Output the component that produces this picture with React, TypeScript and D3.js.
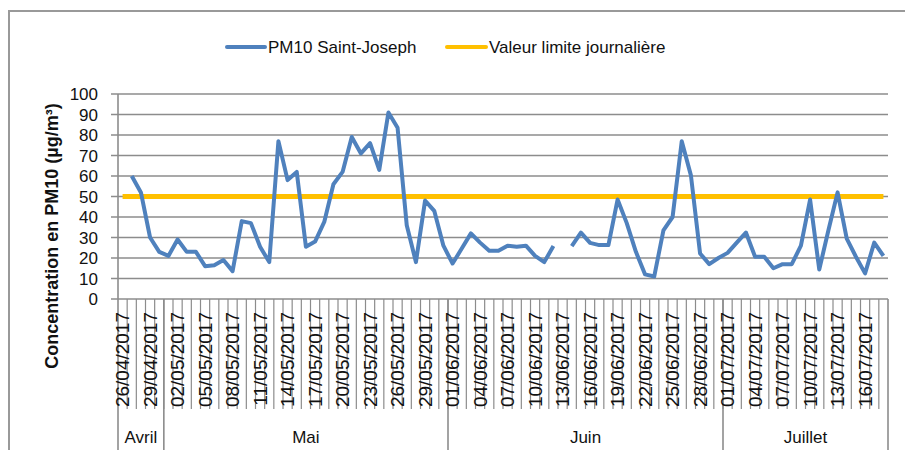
import React from 'react';
import * as d3 from 'd3';

// one value per day, 26/04/2017 -> 18/07/2017 (null = no measurement)
const dates: Date[] = d3.timeDay.range(new Date(2017, 3, 26), new Date(2017, 6, 19));

const pm10: (number | null)[] = [
  null, 60, 52, 30, 23, 21, 29, 23, 23, 16,
  16.5, 19, 13.6, 38, 37, 25.5, 18, 77, 58, 62,
  25.5, 28, 37.6, 56, 62, 79, 71, 76, 63, 91,
  83.5, 36, 18, 48, 43, 26, 17.3, 24.6, 32, 27.5,
  23.5, 23.5, 26, 25.5, 26, 21, 18, 25.8, null, 25.8,
  32.4, 27.4, 26.3, 26.3, 48.5, 37, 23, 12, 11, 33.5,
  40, 77, 60.3, 22.2, 17, 20, 22.5, 27.5, 32.4, 20.6,
  20.6, 15, 17, 17, 26, 48.5, 14.4, 33.5, 52, 29.5,
  20.6, 12.5, 27.5, 21
];

const limitValue = 50;
const limit: number[] = dates.map(() => limitValue);

const monthNames = ['Avril', 'Mai', 'Juin', 'Juillet'];
const yTicks = [0, 10, 20, 30, 40, 50, 60, 70, 80, 90, 100];

const seriesNames = ['PM10 Saint-Joseph', 'Valeur limite journalière'];
const BLUE = '#4F81BD';
const YELLOW = '#FFC000';
const GRID = '#8c8c8c';
const FONT = "'Liberation Sans', Arial, sans-serif";

const fmt = d3.timeFormat('%d/%m/%Y');

export default function App() {
  const left = 118;
  const right = 888;
  const top = 94;
  const bottom = 299;

  const x = d3.scaleBand<number>().domain(dates.map((_, i) => i)).range([left, right]).padding(0);
  const bw = x.bandwidth();
  const cx = (i: number) => (x(i) as number) + bw / 2;
  const y = d3.scaleLinear().domain([0, 100]).range([bottom, top]);

  const line = d3
    .line<number | null>()
    .defined((d) => d != null)
    .x((_, i) => cx(i))
    .y((d) => y(d as number));

  // month groups from the dates
  const months: { name: string; start: number; end: number }[] = [];
  dates.forEach((d, i) => {
    const m = d.getMonth() - 3;
    if (!months[m]) months[m] = { name: monthNames[m], start: i, end: i };
    months[m].end = i;
  });

  return (
    <svg
      width={905}
      height={450}
      style={{ position: 'absolute', left: 0, top: 0, background: '#fff' }}
      fontFamily={FONT}
    >
      <rect x={9} y={11} width={905} height={450} fill="#fff" stroke="#999" strokeWidth={2} />

      {/* legend */}
      <g>
        <line x1={227} x2={265} y1={47} y2={47} stroke={BLUE} strokeWidth={4} strokeLinecap="round" />
        <text x={268} y={53} fontSize={17} fill="#111">{seriesNames[0]}</text>
        <line x1={447} x2={486} y1={47} y2={47} stroke={YELLOW} strokeWidth={4} strokeLinecap="round" />
        <text x={489} y={53} fontSize={17} fill="#111">{seriesNames[1]}</text>
      </g>

      {/* gridlines + y ticks */}
      {yTicks.map((t) => (
        <g key={t}>
          <line x1={111} x2={right} y1={y(t)} y2={y(t)} stroke={GRID} strokeWidth={1.6} />
          <text x={98} y={y(t) + 6} textAnchor="end" fontSize={17} fill="#111">{t}</text>
        </g>
      ))}
      <line x1={left} x2={left} y1={top} y2={450} stroke={GRID} strokeWidth={1.6} />

      {/* y title */}
      <text
        transform={`translate(58, 236) rotate(-90)`}
        textAnchor="middle"
        fontSize={18}
        fontWeight="bold"
        fill="#111"
      >
        Concentration en PM10 (µg/m³)
      </text>

      {/* category ticks */}
      {dates.map((_, i) =>
        i === 0 ? null : (
          <line key={i} x1={x(i)} x2={x(i)} y1={bottom} y2={409} stroke={GRID} strokeWidth={1.2} />
        )
      )}
      {months.map((m) => (
        <g key={m.name}>
          <line
            x1={(x(m.end) as number) + bw}
            x2={(x(m.end) as number) + bw}
            y1={bottom}
            y2={450}
            stroke={GRID}
            strokeWidth={1.6}
          />
          <text
            x={((x(m.start) as number) + (x(m.end) as number) + bw) / 2}
            y={443}
            textAnchor="middle"
            fontSize={17}
            fill="#111"
          >
            {m.name}
          </text>
        </g>
      ))}

      {/* date labels */}
      {dates.map((d, i) =>
        i % 3 === 0 ? (
          <text
            key={i}
            transform={`translate(${cx(i) + 6.5}, 312) rotate(-90)`}
            textAnchor="end"
            fontSize={19}
            fill="#111"
          >
            {fmt(d)}
          </text>
        ) : null
      )}

      {/* series */}
      <path d={line(limit) || ''} fill="none" stroke={YELLOW} strokeWidth={5} />
      <path d={line(pm10) || ''} fill="none" stroke={BLUE} strokeWidth={4} strokeLinejoin="round" />
    </svg>
  );
}
